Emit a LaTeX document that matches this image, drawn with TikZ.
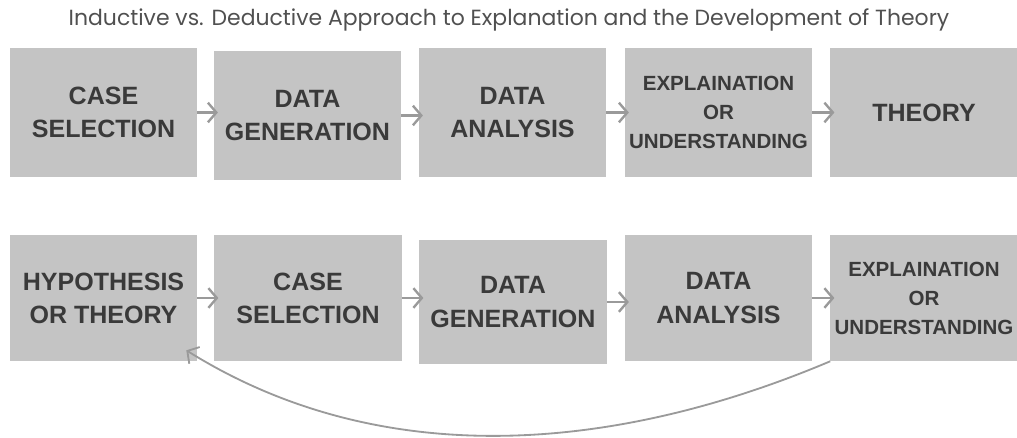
\documentclass[tikz,border=0pt]{standalone}
\usepackage{fontspec}
\setmainfont{Liberation Sans}
\newfontfamily\titlefont{Poppins}
\usetikzlibrary{arrows.meta}
\definecolor{boxgray}{HTML}{C4C4C4}
\definecolor{inkgray}{HTML}{3A3A3A}
\definecolor{arrowgray}{HTML}{9A9A9A}
\definecolor{titlegray}{HTML}{505050}
\tikzset{
  stage/.style = {fill=boxgray, inner sep=0pt, align=center, text=inkgray,
    minimum width=4.675cm, minimum height=3.2cm,
    font=\fontsize{17.8}{23.5}\selectfont\bfseries},
  longtext/.style = {font=\fontsize{14.6}{20.6}\selectfont\bfseries},
  flow/.style = {arrowgray, line width=1.7pt, shorten >=-3pt,
    -{Straight Barb[length=6pt,width=14pt]}}
}
\begin{document}
\begin{tikzpicture}[x = 0.025cm, y = -0.025cm]
        \useasboundingbox (0, 0) rectangle (1017, 438);
        \node[font=\titlefont\fontsize{15.6}{18}\selectfont, text=titlegray] (title) at (509, 20)
            {Inductive vs. Deductive Approach to Explanation and the Development of Theory};
        \node[stage] (t1) at (103.5, 112.5) {CASE\\SELECTION};
        \node[stage] (t2) at (307.5, 115.5) {DATA\\GENERATION};
        \node[stage] (t3) at (512.5, 112.5) {DATA\\ANALYSIS};
        \node[stage, longtext] (t4) at (718.5, 112.5) {EXPLAINATION\\OR\\UNDERSTANDING};
        \node[stage] (t5) at (924, 112.5) {THEORY};
        \node[stage, minimum height=3.15cm] (b1) at (103.5, 298) {HYPOTHESIS\\OR THEORY};
        \node[stage, minimum height=3.15cm] (b2) at (308, 298) {CASE\\SELECTION};
        \node[stage, minimum height=3.1cm] (b3) at (513, 302) {DATA\\GENERATION};
        \node[stage, minimum height=3.15cm] (b4) at (718.5, 298) {DATA\\ANALYSIS};
        \node[stage, longtext, minimum height=3.15cm] (b5) at (924, 298) {EXPLAINATION\\OR\\UNDERSTANDING};
        \foreach \a/\b in {t1/t2, t2/t3, t3/t4, t4/t5, b1/b2, b2/b3, b3/b4, b4/b5}
            \draw[flow] (\a.east) -- (\a.east -| \b.west);
        \draw[flow, line width=1.3pt, shorten >=0pt] (b5.south west)
            .. controls +(-213, 90) and +(197, 123) .. ([shift={(-11, -11)}]b1.south east);
        \end{tikzpicture}
\end{document}
